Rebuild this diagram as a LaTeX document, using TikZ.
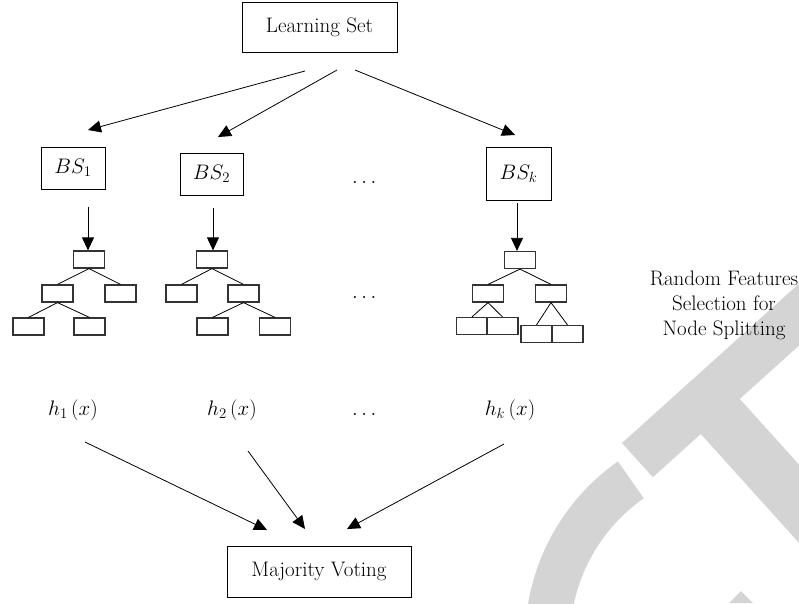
\RequirePackage{fix-cm}
\documentclass[tikz,border=0pt]{standalone}
\usepackage{amsmath, amssymb}
\usepackage{tikz}
\usetikzlibrary{arrows.meta,calc}
\definecolor{wmgray}{RGB}{212,212,212}

\begin{document}
\begin{tikzpicture}[x=1pt,y=-1pt,
  font=\fontsize{21}{25}\selectfont,
  box/.style={draw,line width=0.9pt,inner sep=0pt},
  leaf/.style={draw=black!80,line width=1.2pt,minimum width=31pt,minimum height=17pt,inner sep=0pt},
  arr/.style={-{Triangle[length=13pt,width=12pt]},line width=0.8pt},
  ln/.style={line width=0.8pt}]
  \useasboundingbox (0,0) rectangle (799,603);

  % grey letters in the background
  \begin{scope}
    \clip (0,0) rectangle (799,603);
    \fill[wmgray] (622,443) -- (652.8,477.2) -- (875.7,276.5) -- (844.9,242.3) -- cycle;
    \fill[wmgray] (694,426.5) -- (733,391.4) -- (867,540) -- (828,575) -- cycle;
    \fill[wmgray] ($(743,640)+(235:218)$) arc[start angle=235,end angle=170,radius=218]
      -- ($(743,640)+(170:173)$) arc[start angle=170,end angle=235,radius=173] -- cycle;
    \fill[wmgray] (729,603) -- (741,591) -- (753,603) -- cycle;
  \end{scope}

  % learning set and bootstrap samples
  \node[box,minimum width=155pt,minimum height=50pt] (ls) at (319.5,27) {Learning Set};
  \node[box,minimum width=64pt,minimum height=42pt] (bs1) at (73,168) {$BS_1$};
  \node[box,minimum width=63pt,minimum height=42pt] (bs2) at (211.5,174) {$BS_2$};
  \node[box,minimum width=65pt,minimum height=53pt] (bsk) at (518.5,173.5) {$BS_k$};
  \node (dots1) at (366,182) {$\dots$};

  \coordinate (ls1) at (305,71);  \coordinate (bs1in) at (88,130);
  \coordinate (ls2) at (337,70);  \coordinate (bs2in) at (218,137);
  \coordinate (ls3) at (355,70);  \coordinate (bskin) at (515,135);
  \draw[arr] (ls1) -- (bs1in);
  \draw[arr] (ls2) -- (bs2in);
  \draw[arr] (ls3) -- (bskin);

  % one tree per sample
  \node[leaf] (t1r) at (89,259.5) {};
  \node[leaf] (t1a) at (57.5,293.5) {};
  \node[leaf] (t1b) at (120.5,293.5) {};
  \node[leaf] (t1c) at (28.5,326.5) {};
  \node[leaf] (t1d) at (89.5,326.5) {};
  \draw[ln] (t1r.south) -- (t1a.north);
  \draw[ln] (t1r.south) -- (t1b.north);
  \draw[ln] (t1a.south) -- (t1c.north);
  \draw[ln] (t1a.south) -- (t1d.north);

  \node[leaf] (t2r) at (212,259.5) {};
  \node[leaf] (t2a) at (181.5,293.5) {};
  \node[leaf] (t2b) at (243.5,293.5) {};
  \node[leaf] (t2c) at (212.5,326.5) {};
  \node[leaf] (t2d) at (275,326.5) {};
  \draw[ln] (t2r.south) -- (t2a.north);
  \draw[ln] (t2r.south) -- (t2b.north);
  \draw[ln] (t2b.south) -- (t2c.north);
  \draw[ln] (t2b.south) -- (t2d.north);

  \node[leaf] (tkr) at (520,260) {};
  \node[leaf] (tka) at (488,293.5) {};
  \node[leaf] (tkb) at (551,293.5) {};
  \node[leaf] (tkc) at (472,326) {};
  \node[leaf] (tkd) at (502.5,326) {};
  \node[leaf] (tke) at (536.5,334) {};
  \node[leaf] (tkf) at (567.5,334) {};
  \draw[ln] (tkr.south) -- (tka.north);
  \draw[ln] (tkr.south) -- (tkb.north);
  \draw[ln] (tka.south) -- (tkc.north);
  \draw[ln] (tka.south) -- (tkd.north);
  \draw[ln] (tkb.south) -- (tke.north);
  \draw[ln] (tkb.south) -- (tkf.north);
  \node (dots2) at (366,297) {$\dots$};

  \coordinate (bs1out) at (88,207);
  \coordinate (bs2out) at (213,208);
  \coordinate (bskout) at (517,203);
  \draw[arr] (bs1out) -- (t1r.north -| bs1out);
  \draw[arr] (bs2out) -- (t2r.north -| bs2out);
  \draw[arr] (bskout) -- (tkr.north -| bskout);

  \node[align=center] (rfs) at (724,305) {Random Features\\Selection for\\Node Splitting};

  % classifiers and the vote
  \node (h1) at (73,410) {$h_1\,(x)$};
  \node (h2) at (232,410) {$h_2\,(x)$};
  \node (hk) at (510,410) {$h_k\,(x)$};
  \node (dots3) at (366,414) {$\dots$};
  \node[box,minimum width=184pt,minimum height=51pt] (mv) at (319,571.5) {Majority Voting};

  \coordinate (h1out) at (85,442);  \coordinate (mv1) at (267,530);
  \coordinate (h2out) at (248,451); \coordinate (mv2) at (305,529);
  \coordinate (hkout) at (504,444); \coordinate (mv3) at (347,529);
  \draw[arr] (h1out) -- (mv1);
  \draw[arr] (h2out) -- (mv2);
  \draw[arr] (hkout) -- (mv3);
\end{tikzpicture}
\end{document}
